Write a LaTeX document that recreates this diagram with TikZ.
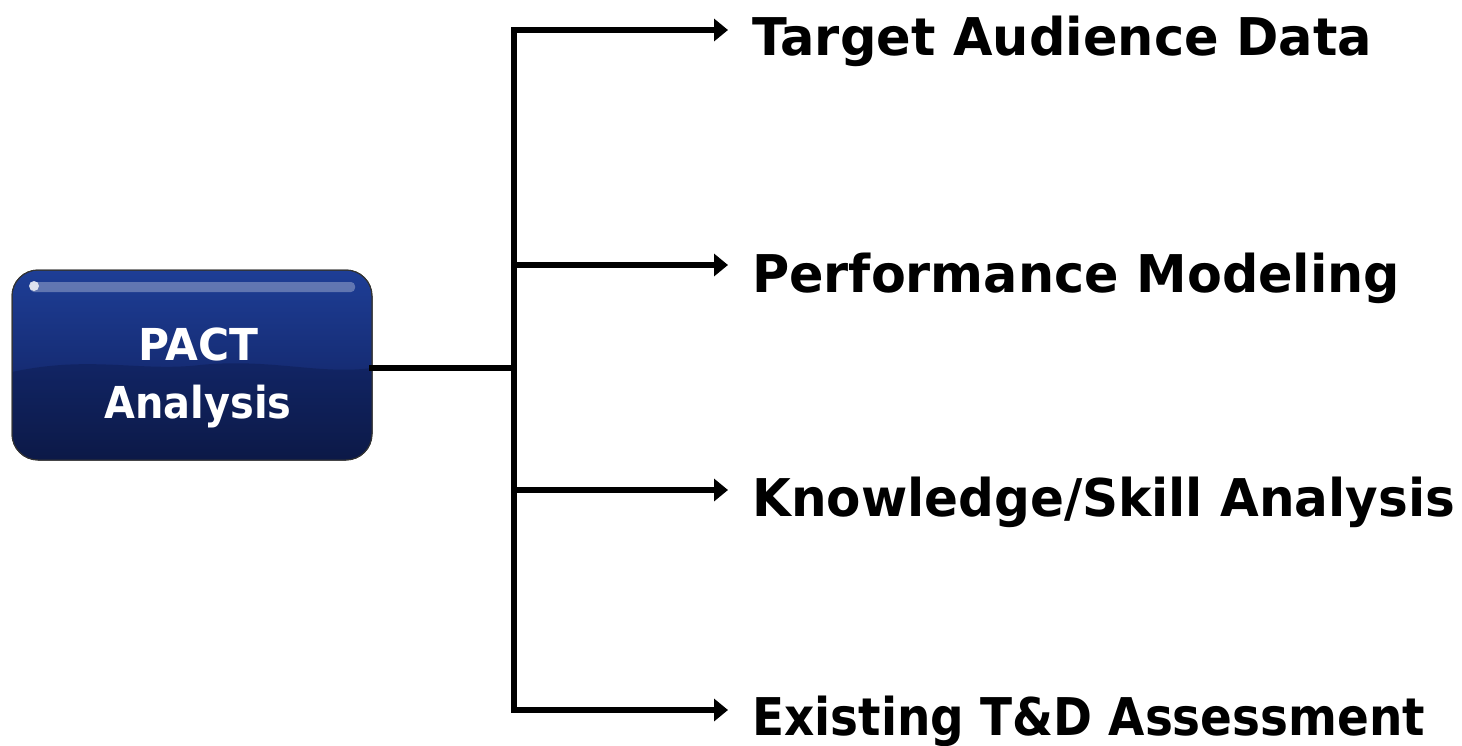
\documentclass[tikz,border=0pt]{standalone}
\usepackage{fontspec}
\setmainfont{DejaVu Sans}
\usetikzlibrary{arrows.meta}
\definecolor{boxtop}{RGB}{30,62,150}
\definecolor{boxmid}{RGB}{22,45,118}
\definecolor{boxbot}{RGB}{10,20,55}
\definecolor{boxwave}{RGB}{14,30,85}
\newcommand{\fitw}[2]{\resizebox{#1}{\height}{#2}}
\tikzset{
  conn/.style={line width=5.5pt, line cap=rect},
  arr/.style={conn, -{Triangle[length=14pt,width=22pt]}},
  lbl/.style={anchor=base west, inner sep=0pt, font=\fontsize{52}{60}\selectfont\bfseries},
  boxtxt/.style={text=white, anchor=base, inner sep=0pt, font=\fontsize{44}{58}\selectfont\bfseries}
}
\begin{document}
\begin{tikzpicture}[x=1pt,y=-1pt]
\useasboundingbox (0,0) rectangle (1462,745);
% box
\shade[rounded corners=26pt, top color=boxtop, bottom color=boxbot, middle color=boxmid, draw=black!80, line width=1pt]
  (12,270) rectangle (372,460);
\begin{scope}
\clip[rounded corners=26pt] (12,270) rectangle (372,460);
\fill[boxwave, opacity=0.55] (12,372) .. controls (90,355) and (140,372) .. (200,365)
  .. controls (270,358) and (320,375) .. (372,368) -- (372,460) -- (12,460) -- cycle;
\end{scope}
\draw[rounded corners=26pt, draw=black!80, line width=1pt] (12,270) rectangle (372,460);
\fill[white, opacity=0.3, rounded corners=4pt] (30,282) rectangle (355,292);
\fill[white, opacity=0.8] (34,286) circle (5pt);
\node[boxtxt] (pact) at (198,360) {\fitw{120pt}{PACT}};
\node[boxtxt] (ana) at (198,418) {\fitw{187pt}{Analysis}};
% trunk
\coordinate (out) at (372,368);
\coordinate (j) at (514,368);
\coordinate (t1) at (514,30);
\coordinate (t2) at (514,265);
\coordinate (t3) at (514,490);
\coordinate (t4) at (514,710);
\coordinate (e1) at (728,30);
\coordinate (e2) at (728,265);
\coordinate (e3) at (728,490);
\coordinate (e4) at (728,710);
\draw[conn] (out) -- (j);
\draw[conn] (t1) -- (t4);
\draw[arr] (t1) -- (e1);
\draw[arr] (t2) -- (e2);
\draw[arr] (t3) -- (e3);
\draw[arr] (t4) -- (e4);
\node[lbl] (l1) at (752,55) {\fitw{620pt}{Target Audience Data}};
\node[lbl] (l2) at (752,292) {\fitw{648pt}{Performance Modeling}};
\node[lbl] (l3) at (752,516) {\fitw{703pt}{Knowledge/Skill Analysis}};
\node[lbl] (l4) at (752,735) {\fitw{673pt}{Existing T\&D Assessment}};
\end{tikzpicture}
\end{document}
